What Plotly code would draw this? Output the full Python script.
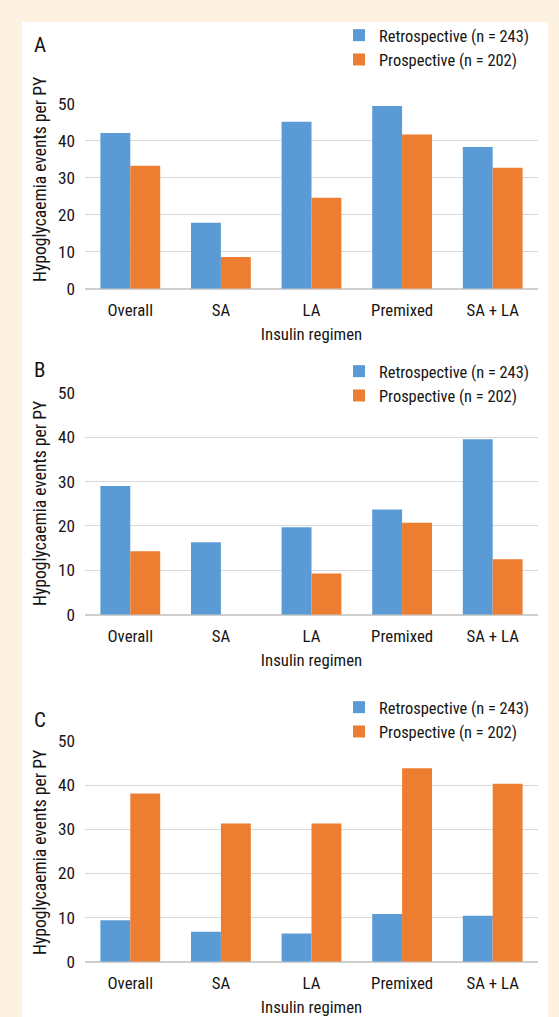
import plotly.graph_objects as go

# ---------------- data ----------------
categories = ["Overall", "SA", "LA", "Premixed", "SA + LA"]
series_names = ["Retrospective (n = 243)", "Prospective (n = 202)"]

retro_A = [42.1, 17.8, 45.1, 49.4, 38.3]
prosp_A = [33.2, 8.6, 24.6, 41.7, 32.7]

retro_B = [29.0, 16.3, 19.7, 23.7, 39.5]
prosp_B = [14.3, None, 9.3, 20.7, 12.5]

retro_C = [9.4, 6.8, 6.4, 10.8, 10.4]
prosp_C = [38.1, 31.3, 31.3, 43.8, 40.3]

panel_labels = ["A", "B", "C"]
y_ticks = [0, 10, 20, 30, 40, 50]
y_title = "Hypoglycaemia events per PY"
x_title = "Insulin regimen"

# ---------------- style ----------------
W, H = 559, 1017
BLUE = "#5b9bd5"
ORANGE = "#ed7d31"
BEIGE = "#fdf2e1"
GRID = "#d9d9d9"
TXT = "#151515"
FONT = "Roboto Condensed, Roboto, sans-serif"
FS = 16.4


def px_x(x):
    return x / W


def px_y(y):
    return 1 - y / H


# panel geometry in pixels: (y of value 50, y of value 0)
panels = [(103.7, 288.7), (392.7, 614.7), (741.0, 961.7)]
legend_tops = [18, 354, 690]
label_y = [45, 370, 720]
ytitle_y = [180, 504, 853]
x_left, x_right = 85, 538

data = [(retro_A, prosp_A), (retro_B, prosp_B), (retro_C, prosp_C)]

fig = go.Figure()
layout_extra = {}
annotations = []

for i, ((retro, prosp), (y50, y0)) in enumerate(zip(data, panels)):
    n = i + 1
    xa = "x" if n == 1 else f"x{n}"
    ya = "y" if n == 1 else f"y{n}"
    lg = "legend" if n == 1 else f"legend{n}"
    for name, vals, col in zip(series_names, (retro, prosp), (BLUE, ORANGE)):
        fig.add_trace(go.Bar(
            x=categories, y=vals, name=name, marker=dict(color=col, line=dict(width=0)),
            xaxis=xa, yaxis=ya, legend=lg,
        ))
    layout_extra[f"xaxis{'' if n == 1 else n}"] = dict(
        domain=[px_x(x_left), px_x(x_right)],
        anchor=ya,
        showgrid=False,
        showline=False,
        ticks="",
        ticklabelstandoff=9,
        tickfont=dict(family=FONT, size=FS + 0.4, color=TXT),
        title=dict(text=x_title, font=dict(family=FONT, size=FS + 0.4, color=TXT), standoff=9),
    )
    layout_extra[f"yaxis{'' if n == 1 else n}"] = dict(
        domain=[px_y(y0), px_y(y50)],
        anchor=xa,
        range=[0, 50],
        tickvals=y_ticks,
        showgrid=True,
        gridcolor=GRID,
        gridwidth=1,
        zeroline=True,
        zerolinecolor="#cfcfcf",
        zerolinewidth=1.5,
        showline=False,
        ticks="",
        ticklabelstandoff=9,
        tickfont=dict(family=FONT, size=FS + 0.8, color=TXT),
    )
    layout_extra[lg] = dict(
        x=px_x(339), y=px_y(legend_tops[i]), xanchor="left", yanchor="top",
        bgcolor="rgba(0,0,0,0)",
        font=dict(family=FONT, size=FS, color=TXT),
        traceorder="normal",
        itemclick=False,
    )
    annotations.append(dict(
        text=panel_labels[i], x=px_x(32), y=px_y(label_y[i]), xref="paper", yref="paper",
        xanchor="left", yanchor="middle", showarrow=False,
        font=dict(family=FONT, size=21, color=TXT),
    ))
    annotations.append(dict(
        text=y_title, x=px_x(40), y=px_y(ytitle_y[i]), xref="paper", yref="paper",
        xanchor="center", yanchor="middle", textangle=-90, showarrow=False,
        font=dict(family=FONT, size=17.6, color=TXT),
    ))

fig.update_layout(
    width=W, height=H, autosize=False,
    margin=dict(l=0, r=0, t=0, b=0, pad=0, autoexpand=False),
    paper_bgcolor=BEIGE,
    plot_bgcolor="rgba(0,0,0,0)",
    barmode="group",
    bargap=0.34,
    bargroupgap=0,
    showlegend=True,
    annotations=annotations,
    shapes=[dict(type="rect", xref="paper", yref="paper", layer="below",
                 x0=px_x(22), x1=px_x(548), y0=0, y1=px_y(22),
                 fillcolor="white", line=dict(width=0))],
    **layout_extra,
)

fig.write_html("out.html", config={"displayModeBar": False},
               post_script="document.body.style.margin='0';")
